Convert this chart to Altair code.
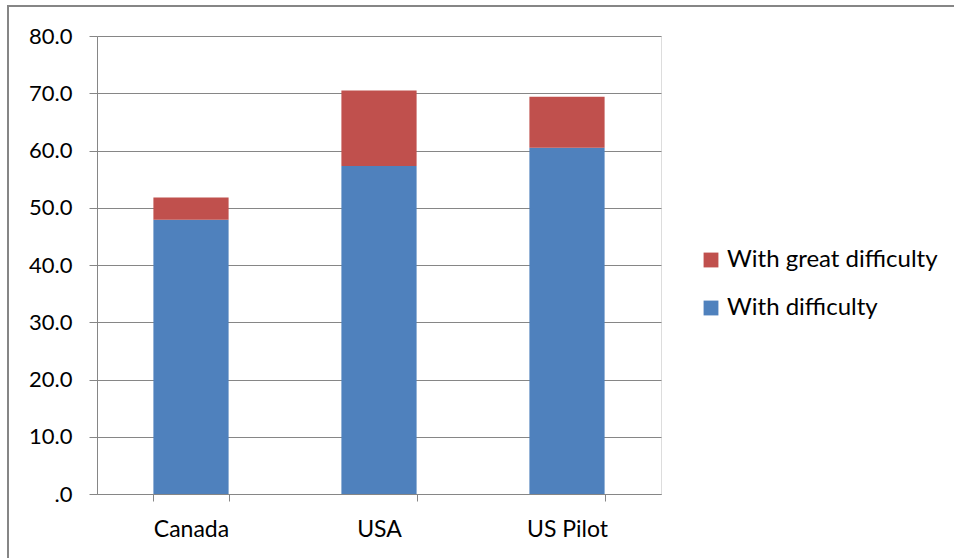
import altair as alt
import pandas as pd

countries = ["Canada", "USA", "US Pilot"]
with_difficulty = [47.9, 57.3, 60.5]
with_great_difficulty = [3.9, 13.2, 8.9]
series = ["With great difficulty", "With difficulty"]
colors = ["#C0504D", "#4F81BD"]
y_ticks = [0, 10, 20, 30, 40, 50, 60, 70, 80]

rows = []
for c, a, b in zip(countries, with_difficulty, with_great_difficulty):
    rows.append({"country": c, "series": "With difficulty", "value": a, "order": 1})
    rows.append({"country": c, "series": "With great difficulty", "value": b, "order": 2})
df = pd.DataFrame(rows)

FONT = "Lato"

bars = alt.Chart(df).mark_bar().encode(
    x=alt.X("country:N", sort=countries, title=None,
            scale=alt.Scale(paddingInner=0.6, paddingOuter=0.3),
            axis=alt.Axis(labelAngle=0, tickBand="extent", labelFontSize=23,
                          labelFont=FONT, labelColor="#000", labelPadding=17,
                          domainColor="#868686", tickColor="#868686", tickSize=7,
                          grid=False)),
    y=alt.Y("value:Q", stack="zero", title=None,
            scale=alt.Scale(domain=[0, 80], nice=False),
            axis=alt.Axis(values=y_ticks,
                          labelExpr="datum.value == 0 ? '.0' : format(datum.value, '.1f')",
                          labelFontSize=22, labelFont=FONT, labelColor="#000",
                          labelPadding=17, domainColor="#868686", tickColor="#868686",
                          tickSize=8, gridColor="#868686", gridWidth=1)),
    color=alt.Color("series:N", scale=alt.Scale(domain=series, range=colors),
                    legend=alt.Legend(title=None, orient="none", legendX=602, legendY=212,
                                      symbolType="square", symbolSize=220,
                                      symbolStrokeWidth=0, labelFontSize=24,
                                      labelFont=FONT, labelColor="#000", labelLimit=400,
                                      rowPadding=24, labelOffset=4)),
    order=alt.Order("order:Q"),
)

frame = alt.Chart(df).mark_rect(fill="transparent", stroke="#868686", strokeWidth=1.5).encode(
    x=alt.value(-89), x2=alt.value(900), y=alt.value(-30), y2=alt.value(600)
)

chart = alt.layer(frame, bars).properties(
    width=564, height=458,
    autosize=alt.AutoSizeParams(type="none"),
    padding={"left": 97, "top": 36, "right": 293, "bottom": 64},
).configure_view(stroke=None).configure(background="white")

chart.save("out.html", embed_options={"renderer": "svg", "actions": False})
